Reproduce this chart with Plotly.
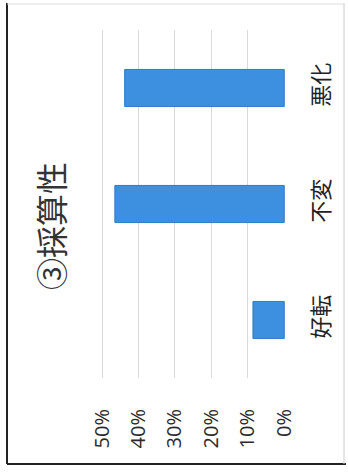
import plotly.graph_objects as go

categories = ["好転", "不変", "悪化"]
values = [0.086, 0.465, 0.438]
tick_vals = [0, 0.1, 0.2, 0.3, 0.4, 0.5]
tick_text = ["0%", "10%", "20%", "30%", "40%", "50%"]
title_text = "③採算性"

W, H = 348, 472
L, R, T, B = 101, 63, 30, 94
pw, ph = W - L - R, H - T - B

def px(x):
    return (x - L) / pw

def py(y):
    return (H - B - y) / ph

fig = go.Figure()
fig.add_trace(go.Bar(
    y=categories, x=values, orientation="h", width=0.32,
    marker=dict(color="#3d8fe0", line=dict(color="#2f7cc8", width=1)),
))

font = "Noto Sans CJK JP"
fig.update_layout(
    width=W, height=H,
    margin=dict(l=L, r=R, t=T, b=B),
    paper_bgcolor="white", plot_bgcolor="white",
    showlegend=False,
    font=dict(family=font, color="#333333"),
    xaxis=dict(
        range=[0.503, -0.002], tickvals=tick_vals, ticktext=tick_text,
        tickangle=-90, showgrid=True, gridcolor="#d9d9d9", gridwidth=1,
        zeroline=False, showline=False, ticks="",
        tickfont=dict(size=20, color="#2b2b2b", family="Open Sans"),
        ticklabelstandoff=26, automargin=False,
    ),
    yaxis=dict(
        side="right", tickangle=-90, showgrid=False, zeroline=False,
        showline=False, ticks="", range=[-0.5, 2.5],
        tickfont=dict(size=22, color="#222222", family=font),
        ticklabelstandoff=21, automargin=False,
    ),
    annotations=[dict(
        text=title_text, xref="paper", yref="paper",
        x=px(50), y=py(226), textangle=-90, showarrow=False,
        font=dict(size=32, color="#333333", family=font),
        xanchor="center", yanchor="middle",
    )],
    shapes=[
        dict(type="line", xref="paper", yref="paper", x0=px(7), x1=px(7),
             y0=py(3), y1=py(464), line=dict(color="#222222", width=2)),
        dict(type="line", xref="paper", yref="paper", x0=px(7), x1=px(346),
             y0=py(464), y1=py(464), line=dict(color="#222222", width=2)),
        dict(type="line", xref="paper", yref="paper", x0=px(7), x1=px(345),
             y0=py(4), y1=py(4), line=dict(color="#dddddd", width=1)),
        dict(type="line", xref="paper", yref="paper", x0=px(344), x1=px(344),
             y0=py(4), y1=py(464), line=dict(color="#cccccc", width=1)),
    ],
)

fig.write_html("out.html", config={"displayModeBar": False},
               post_script="document.body.style.margin='0';")
